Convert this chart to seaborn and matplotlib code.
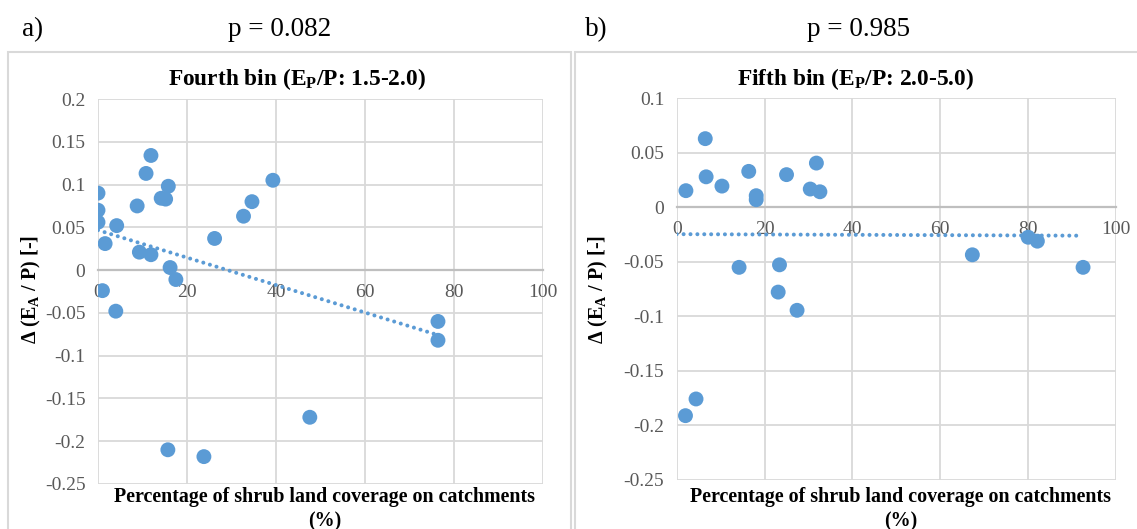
import numpy as np
import pandas as pd
import matplotlib
matplotlib.use("Agg")
import matplotlib.pyplot as plt
import seaborn as sns
from matplotlib.patches import Rectangle

# ---------------- data ----------------
shrub_a = [0, 0, 0, 1.0, 1.6, 4.2, 4.0, 8.8, 9.3, 10.8, 11.9, 11.9, 14.2, 15.2,
           15.8, 16.2, 17.5, 26.2, 32.7, 34.6, 39.3, 15.7, 23.8, 47.6, 76.4, 76.4]
delta_a = [0.090, 0.070, 0.056, -0.024, 0.031, 0.052, -0.048, 0.075, 0.021, 0.113,
           0.134, 0.018, 0.084, 0.083, 0.098, 0.003, -0.011, 0.037, 0.063, 0.080,
           0.105, -0.210, -0.218, -0.172, -0.060, -0.082]

shrub_b = [2.1, 6.5, 6.7, 10.3, 14.2, 16.4, 18.1, 18.1, 23.4, 23.1, 25.0, 27.4,
           30.4, 31.8, 32.6, 67.3, 80.0, 82.1, 92.5, 2.0, 4.4]
delta_b = [0.0153, 0.063, 0.028, 0.0195, -0.055, 0.033, 0.0107, 0.007, -0.0527,
           -0.0777, 0.030, -0.0944, 0.0168, 0.0406, 0.0143, -0.0435, -0.0274,
           -0.031, -0.055, -0.191, -0.1757]

x_ticks = [0, 20, 40, 60, 80, 100]
x_ticklabels = ["0", "20", "40", "60", "80", "100"]
y_ticks_a = [0.2, 0.15, 0.1, 0.05, 0, -0.05, -0.1, -0.15, -0.2, -0.25]
y_ticklabels_a = ["0.2", "0.15", "0.1", "0.05", "0", "-0.05", "-0.1", "-0.15", "-0.2", "-0.25"]
y_ticks_b = [0.1, 0.05, 0, -0.05, -0.1, -0.15, -0.2, -0.25]
y_ticklabels_b = ["0.1", "0.05", "0", "-0.05", "-0.1", "-0.15", "-0.2", "-0.25"]

titles = ["Fourth bin (E$\\mathregular{_P}$/P: 1.5-2.0)",
          "Fifth bin (E$\\mathregular{_P}$/P: 2.0-5.0)"]
panel_tags = ["a)", "b)"]
p_values = ["p = 0.082", "p = 0.985"]
x_label = "Percentage of shrub land coverage on catchments"
y_label = "\u0394 (E$\\mathregular{_A}$ / P) [-]"

# ---------------- style ----------------
sns.set_theme(style="white")
plt.rcParams["font.family"] = ["Liberation Serif", "DejaVu Serif"]
plt.rcParams["mathtext.fontset"] = "custom"
plt.rcParams["mathtext.rm"] = "Liberation Serif"

W, H = 1137, 529
fig = plt.figure(figsize=(W / 100, H / 100), dpi=100)

BLUE = "#5b9bd5"
GRID = "#d9d9d9"
TICK = "#595959"


def fx(px):
    return px / W


def fy(py):
    return 1 - py / H


# chart-area borders
fig.patches.append(Rectangle((fx(8), fy(540)), fx(571) - fx(8), fy(52) - fy(540),
                             transform=fig.transFigure, fill=False,
                             edgecolor=GRID, linewidth=1.5))
fig.patches.append(Rectangle((fx(575), fy(540)), fx(1140) - fx(575), fy(52) - fy(540),
                             transform=fig.transFigure, fill=False,
                             edgecolor=GRID, linewidth=1.5))

panels = [
    dict(x=shrub_a, y=delta_a, yt=y_ticks_a, ytl=y_ticklabels_a, ylim=(-0.25, 0.2),
         box=(98, 99, 543, 484), title_x=297),
    dict(x=shrub_b, y=delta_b, yt=y_ticks_b, ytl=y_ticklabels_b, ylim=(-0.25, 0.1),
         box=(676.7, 98.3, 1116, 480), title_x=856),
]
ylabel_x = [31, 598]

for i, p in enumerate(panels):
    l, t, r, b = p["box"]
    ax = fig.add_axes([fx(l), fy(b), fx(r) - fx(l), fy(t) - fy(b)])
    ax.set_axisbelow(True)
    df = pd.DataFrame({"shrub": p["x"], "delta": p["y"]})
    sns.scatterplot(data=df, x="shrub", y="delta", ax=ax, color=BLUE, s=115,
                    edgecolor="none", zorder=4, legend=False)
    # linear trend line from data
    slope, inter = np.polyfit(df["shrub"], df["delta"], 1)
    xs = np.array([0.0, df["shrub"].max()])
    trend = pd.DataFrame({"shrub": xs, "delta": inter + slope * xs})
    sns.lineplot(data=trend, x="shrub", y="delta", ax=ax, color=BLUE, lw=2.9,
                 linestyle=(0, (0.01, 1.7)), dash_capstyle="round", zorder=3)
    ax.set_xlim(0, 100)
    ax.set_ylim(*p["ylim"])
    ax.set_xticks(x_ticks)
    ax.set_xticklabels(x_ticklabels)
    ax.set_yticks(p["yt"])
    ax.set_yticklabels(p["ytl"])
    ax.grid(True, color=GRID, linewidth=1.3)
    for s in ["top", "right", "left"]:
        ax.spines[s].set_visible(False)
    ax.spines["bottom"].set_position(("data", 0))
    ax.spines["bottom"].set_color("#bfbfbf")
    ax.spines["bottom"].set_linewidth(1.6)
    ax.spines["bottom"].set_zorder(2)
    ax.tick_params(axis="both", length=0, labelsize=14, labelcolor=TICK)
    ax.tick_params(axis="x", pad=10)
    ax.tick_params(axis="y", pad=9)
    ax.set_xlabel("")
    ax.set_ylabel("")
    ax.patch.set_alpha(0)

    fig.text(fx(p["title_x"]), fy(79), titles[i], ha="center", va="center",
             fontsize=16.8, fontweight="bold", color="black")
    fig.text(fx((l + r) / 2 + 4), fy(497), x_label, ha="center", va="center",
             fontsize=14.4, fontweight="bold", color="black")
    fig.text(fx((l + r) / 2 + 4), fy(521), "(%)", ha="center", va="center",
             fontsize=14.4, fontweight="bold", color="black")
    fig.text(fx(ylabel_x[i]), fy(290), y_label, ha="center", va="center", rotation=90,
             fontsize=14.5, fontweight="bold", color="black")

fig.text(fx(22), fy(30), panel_tags[0], ha="left", va="center", fontsize=19.5, color="black")
fig.text(fx(280), fy(30), p_values[0], ha="center", va="center", fontsize=19.5, color="black")
fig.text(fx(585), fy(30), panel_tags[1], ha="left", va="center", fontsize=19.5, color="black")
fig.text(fx(859), fy(30), p_values[1], ha="center", va="center", fontsize=19.5, color="black")

fig.savefig("out.png", dpi=100)
